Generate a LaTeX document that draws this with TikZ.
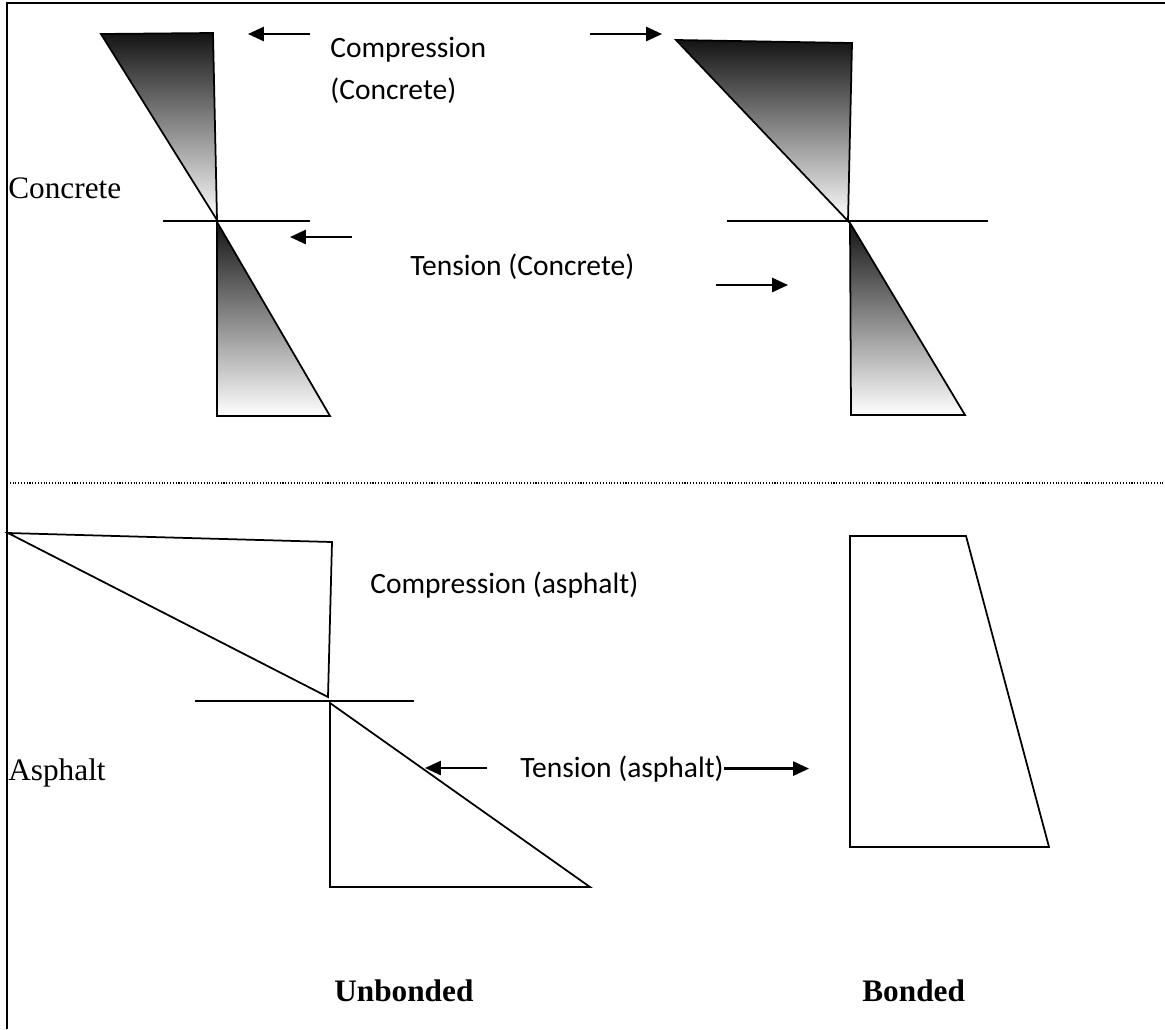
\documentclass[tikz,border=0pt]{standalone}
\usepackage{fontspec}
\setmainfont{Liberation Serif}
\newfontfamily\calfont{Carlito}
\usetikzlibrary{arrows.meta}
\tikzstyle{stressline}=[line width=1pt]
\tikzstyle{axisline}=[line width=0.7pt]
\tikzstyle{shaded}=[stressline,draw=black,top color=black!92,bottom color=white]
\tikzstyle{forcearrow}=[line width=1.3pt,-{Triangle[length=9pt,width=8pt]}]
\tikzstyle{notetext}=[font=\calfont\fontsize{16.8pt}{20pt}\selectfont,inner sep=0pt,anchor=base west]
\tikzstyle{sidetext}=[font=\fontsize{17.8pt}{21pt}\selectfont,inner sep=0pt,anchor=base west]
\tikzstyle{captext}=[sidetext,font=\fontsize{17.8pt}{21pt}\selectfont\bfseries]
\begin{document}
\begin{tikzpicture}[x=0.02cm,y=-0.02cm]
\useasboundingbox (0,0) rectangle (1165,1029);
% frame
\draw[line width=1.2pt] (1165,3)--(7,3)--(7,1029);
\draw[densely dotted,line width=0.6pt] (7,483)--(1165,483);

% concrete, unbonded
\shadedraw[shaded] (101,34)--(213,33)--(217,220)--cycle;
\shadedraw[shaded] (217,222)--(217,416)--(330,416)--cycle;
\draw[axisline] (163,221)--(310,221);

% concrete, bonded
\shadedraw[shaded] (676,40)--(852,43)--(848,221)--cycle;
\shadedraw[shaded] (850,223)--(851,415)--(965,415)--cycle;
\draw[axisline] (727,221)--(988,221);

% asphalt, unbonded
\draw[stressline] (8,533)--(332,542)--(328,697)--cycle;
\draw[axisline] (195,701)--(414,701);
\draw[stressline] (330,703)--(330,887)--(590,887)--cycle;

% asphalt, bonded
\draw[stressline] (850,536)--(966,536)--(1049,847)--(850,847)--cycle;

% texts
\node[sidetext] (concL) at (8,198) {Concrete};
\node[sidetext] (asphL) at (8,780) {Asphalt};
\node[notetext] (compC) at (330,57) {Compression};
\node[notetext] (compC2) at (330,99) {(Concrete)};
\node[notetext] (tensC) at (410,275) {Tension (Concrete)};
\node[notetext] (compA) at (370,593) {Compression (asphalt)};
\node[notetext] (tensA) at (520,777) {Tension (asphalt)};
\node[captext] (unb) at (334,1001) {Unbonded};
\node[captext] (bon) at (862,1001) {Bonded};

% force arrows
\coordinate (ucTail) at (310,34);  \coordinate (ucTip) at (248,34);
\coordinate (utTail) at (352,237); \coordinate (utTip) at (290,237);
\coordinate (bcTail) at (590,34);  \coordinate (bcTip) at (662,34);
\coordinate (btTail) at (716,285); \coordinate (btTip) at (788,285);
\coordinate (uaTail) at (487,768); \coordinate (uaTip) at (425,768);
\coordinate (baTip) at (809,767);
\draw[forcearrow] (ucTail)--(ucTip);
\draw[forcearrow] (utTail)--(utTip);
\draw[forcearrow] (bcTail)--(bcTip);
\draw[forcearrow] (btTail)--(btTip);
\draw[forcearrow] (uaTail)--(uaTip);
\draw[forcearrow] (tensA.east)--(tensA.east -| baTip);
\end{tikzpicture}
\end{document}
